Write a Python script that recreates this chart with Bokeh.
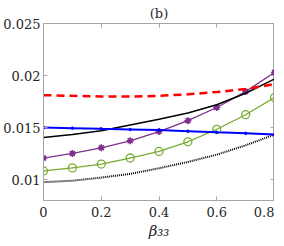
from bokeh.plotting import figure
from bokeh.models import LinearAxis, FixedTicker, Range1d, Title
from bokeh.embed import file_html
from bokeh.resources import INLINE

beta = [0.0, 0.1, 0.2, 0.3, 0.4, 0.5, 0.6, 0.7, 0.8]
red_dashed = [0.01812, 0.01805, 0.01800, 0.01798, 0.01805, 0.01820, 0.01842, 0.01870, 0.01918]
black_solid = [0.01405, 0.01435, 0.01470, 0.01525, 0.01580, 0.01640, 0.01720, 0.01830, 0.01967]
blue_line = [0.01500, 0.01495, 0.01488, 0.01482, 0.01476, 0.01466, 0.01455, 0.01445, 0.01433]
purple_star = [0.01208, 0.01252, 0.01306, 0.01373, 0.01462, 0.01567, 0.01693, 0.01846, 0.02030]
green_circle = [0.01084, 0.01113, 0.01150, 0.01208, 0.01271, 0.01364, 0.01484, 0.01624, 0.01789]
black_dotted = [0.00976, 0.00990, 0.01020, 0.01055, 0.01110, 0.01170, 0.01240, 0.01330, 0.01433]

xticks = [0, 0.2, 0.4, 0.6, 0.8]
xtick_labels = ["0", "0.2", "0.4", "0.6", "0.8"]
yticks = [0.01, 0.015, 0.02, 0.025]
ytick_labels = ["0.01", "0.015", "0.02", "0.025"]

FONT = "DejaVu Serif"
AX = "#a6a6a6"
TXT = "#262626"

p = figure(frame_width=231, frame_height=177, output_backend="svg", toolbar_location=None,
           x_range=Range1d(0, 0.8), y_range=Range1d(0.008, 0.025),
           min_border_left=0, min_border_right=0, min_border_top=0, min_border_bottom=0)
p.title = Title(text="(b)", align="center", text_font=FONT, text_font_size="13px",
                text_font_style="normal", text_color=TXT, offset=0, standoff=6)
p.grid.visible = False
p.outline_line_color = AX
p.outline_line_width = 1

for ax in (p.xaxis[0], p.yaxis[0]):
    ax.axis_line_color = AX
    ax.major_tick_line_color = AX
    ax.minor_tick_line_color = None
    ax.major_tick_in = 4
    ax.major_tick_out = 0
    ax.major_label_text_font = FONT
    ax.major_label_text_font_size = "13px"
    ax.major_label_text_color = TXT

p.xaxis[0].ticker = FixedTicker(ticks=xticks)
p.xaxis[0].major_label_overrides = dict(zip(xticks, xtick_labels))
p.xaxis[0].major_label_standoff = 6
p.yaxis[0].ticker = FixedTicker(ticks=yticks)
p.yaxis[0].major_label_overrides = dict(zip(yticks, ytick_labels))
p.yaxis[0].major_label_standoff = 3

p.xaxis[0].axis_label = "β₃₃"
p.xaxis[0].axis_label_text_font = FONT
p.xaxis[0].axis_label_text_font_size = "15px"
p.xaxis[0].axis_label_text_font_style = "italic"
p.xaxis[0].axis_label_text_color = TXT
p.xaxis[0].axis_label_standoff = 2

top = LinearAxis(ticker=FixedTicker(ticks=xticks), major_label_text_color=None,
                 major_label_text_font_size="1px",
                 axis_line_color=None, major_tick_line_color=AX, major_tick_in=4,
                 major_tick_out=0, minor_tick_line_color=None, major_label_standoff=0)
right = LinearAxis(ticker=FixedTicker(ticks=yticks), major_label_text_color=None,
                   major_label_text_font_size="1px",
                   axis_line_color=None, major_tick_line_color=AX, major_tick_in=4,
                   major_tick_out=0, minor_tick_line_color=None, major_label_standoff=0)
p.add_layout(top, "above")
p.add_layout(right, "right")

p.line(beta, black_dotted, line_color="black", line_width=2, line_dash="1 1")
p.line(beta, green_circle, line_color="#77AC30", line_width=1.3)
p.scatter(beta, green_circle, marker="circle", size=8, fill_color=None,
          line_color="#77AC30", line_width=1.3)
p.line(beta, purple_star, line_color="#7E2F8E", line_width=1.3)
p.scatter(beta, purple_star, marker="asterisk", size=7, line_color="#7E2F8E", line_width=1.5)
p.scatter(beta, purple_star, marker="circle", size=4, line_color="#7E2F8E", fill_color="#7E2F8E")
p.line(beta, black_solid, line_color="black", line_width=1.5)
p.line(beta, blue_line, line_color="#0000FF", line_width=2)
p.scatter(beta, blue_line, marker="circle", size=2.5, line_color="#0000FF", fill_color="#0000FF")
p.line(beta, red_dashed, line_color="#FF0000", line_width=2.5, line_dash="8 5")

open("out.html", "w").write(file_html(p, INLINE))
